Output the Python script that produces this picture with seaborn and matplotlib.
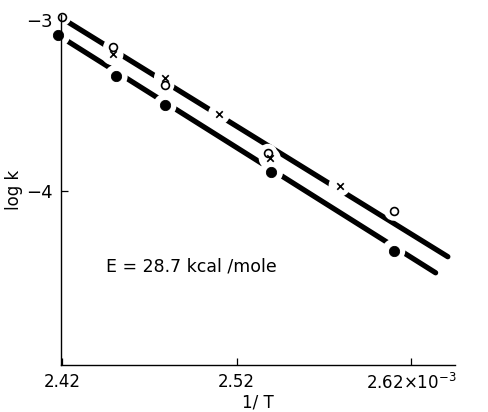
import matplotlib
matplotlib.use("Agg")
import matplotlib.pyplot as plt
import seaborn as sns

# readings (1/T in units of 10^-3)
circ_x = [2.420, 2.449, 2.479, 2.538, 2.610]
circ_y = [-2.98, -3.16, -3.38, -3.78, -4.12]
cross_x = [2.449, 2.479, 2.510, 2.539, 2.579]
cross_y = [-3.20, -3.34, -3.55, -3.81, -3.97]
dot_x = [2.418, 2.451, 2.479, 2.540, 2.610]
dot_y = [-3.09, -3.33, -3.50, -3.89, -4.35]

# fitted straight lines
upper_x = [2.420, 2.641]
upper_y = [-2.99, -4.386]
lower_x = [2.418, 2.634]
lower_y = [-3.09, -4.48]

x_ticks = [2.42, 2.52, 2.62]
x_ticklabels = ["2.42", "2.52", "2.62×10$^{-3}$"]
y_ticks = [-3, -4]
y_ticklabels = ["−3", "−4"]

sns.set_style("ticks", {"text.color": "black", "xtick.color": "black",
                        "ytick.color": "black", "axes.labelcolor": "black",
                        "axes.edgecolor": "black"})
plt.rcParams['font.family'] = ['DejaVu Sans']

fig = plt.figure(figsize=(4.88, 4.12), dpi=100)
ax = fig.add_axes([0.125, 0.114, 0.807, 0.85])

sns.lineplot(x=upper_x, y=upper_y, ax=ax, color="black", lw=3.8, zorder=2)
sns.lineplot(x=lower_x, y=lower_y, ax=ax, color="black", lw=3.8, zorder=2)

# white knock-outs so the lines break at each point
sns.scatterplot(x=circ_x, y=circ_y, ax=ax, s=185,
                color="white", edgecolor="none", zorder=3)
sns.scatterplot(x=cross_x, y=cross_y, ax=ax, s=250,
                color="white", edgecolor="none", zorder=3)
sns.scatterplot(x=dot_x, y=dot_y, ax=ax, s=280, color="white",
                edgecolor="none", zorder=3)

sns.scatterplot(x=circ_x, y=circ_y, ax=ax, marker="o", s=32,
                facecolor="white", edgecolor="black", linewidth=1.2,
                zorder=4, clip_on=False)
sns.scatterplot(x=cross_x, y=cross_y, ax=ax, marker="x", s=22,
                color="black", linewidth=1.2, zorder=4)
sns.scatterplot(x=dot_x, y=dot_y, ax=ax, marker="o", s=55,
                color="black", edgecolor="black", zorder=4, clip_on=False)

ax.set_xlim(2.4195, 2.645)
ax.set_ylim(-5.02, -2.97)
ax.set_xticks(x_ticks)
ax.set_xticklabels(x_ticklabels, fontsize=12)
ax.set_yticks(y_ticks)
ax.set_yticklabels(y_ticklabels, fontsize=13)
ax.tick_params(direction="in", length=5, width=0.9, pad=6, colors="black")
sns.despine(ax=ax)
for s in ["left", "bottom"]:
    ax.spines[s].set_linewidth(1.0)
    ax.spines[s].set_zorder(5)

ax.set_xlabel("1/ T", fontsize=12, labelpad=0)
ax.set_ylabel("log k", fontsize=12, labelpad=2)
ax.text(2.445, -4.47, "E = 28.7 kcal /mole", fontsize=12.5, color="black")

fig.savefig("out.png", dpi=100)
